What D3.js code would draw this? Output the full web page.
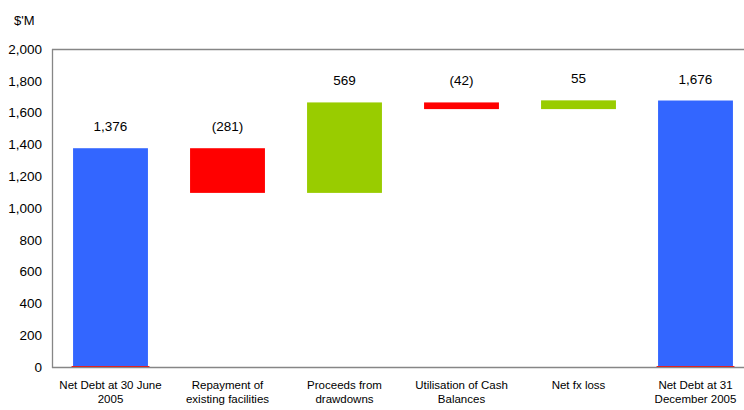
<!DOCTYPE html>
<html>
<head>
<meta charset="utf-8">
<script src="https://cdn.jsdelivr.net/npm/d3@7"></script>
<style>
  html, body { margin: 0; padding: 0; background: #fff; }
  svg { display: block; font-family: "Liberation Sans", Arial, sans-serif; }
</style>
</head>
<body>
<svg id="chart" width="744" height="410"></svg>
<script>
const categories = [
  ["Net Debt at 30 June", "2005"],
  ["Repayment of", "existing facilities"],
  ["Proceeds from", "drawdowns"],
  ["Utilisation of Cash", "Balances"],
  ["Net fx loss"],
  ["Net Debt at 31", "December 2005"]
];
const values = [1376, -281, 569, -42, 55, 1676];
const kinds = ["total", "delta", "delta", "delta", "delta", "total"];
const valueLabels = ["1,376", "(281)", "569", "(42)", "55", "1,676"];
const yTicks = [0, 200, 400, 600, 800, 1000, 1200, 1400, 1600, 1800, 2000];
const yTickLabels = ["0", "200", "400", "600", "800", "1,000", "1,200", "1,400", "1,600", "1,800", "2,000"];

const svg = d3.select("#chart");
const mLeft = 52, mRight = 754, mTop = 49, mBottom = 367;

const x = d3.scaleBand().domain(d3.range(categories.length)).range([mLeft, mRight]).paddingInner(0.36).paddingOuter(0.18);
const y = d3.scaleLinear().domain([0, 2000]).range([mBottom, mTop]);

// compute waterfall segments
let run = 0;
const segs = values.map((v, i) => {
  let y0, y1;
  if (kinds[i] === "total") { y0 = 0; y1 = v; run = v; }
  else { y0 = run; y1 = run + v; run = y1; }
  return { i, v, lo: Math.min(y0, y1), hi: Math.max(y0, y1), kind: kinds[i] };
});

const colorOf = d => d.kind === "total" ? "#3366FF" : (d.v < 0 ? "#FF0000" : "#99CC00");

const grey = "#868686";
svg.append("line").attr("x1", mLeft).attr("x2", 744).attr("y1", mTop + 0.5).attr("y2", mTop + 0.5).attr("stroke", grey).attr("stroke-width", 1.3);
svg.append("line").attr("x1", mLeft + 0.5).attr("x2", mLeft + 0.5).attr("y1", mTop).attr("y2", mBottom + 1).attr("stroke", grey).attr("stroke-width", 1.3);

// bars
svg.append("g").selectAll("rect").data(segs).join("rect")
  .attr("x", d => x(d.i))
  .attr("width", x.bandwidth())
  .attr("y", d => y(d.hi))
  .attr("height", d => y(d.lo) - y(d.hi))
  .attr("fill", colorOf);

// thin red base under total bars
svg.append("g").selectAll("line").data(segs.filter(d => d.kind === "total")).join("line")
  .attr("x1", d => x(d.i) - 1.5).attr("x2", d => x(d.i) + x.bandwidth() + 1.5)
  .attr("y1", y(0) - 0.5).attr("y2", y(0) - 0.5)
  .attr("stroke", "#FF0000").attr("stroke-width", 1);

svg.append("line").attr("x1", mLeft).attr("x2", 744).attr("y1", mBottom + 0.5).attr("y2", mBottom + 0.5).attr("stroke", grey).attr("stroke-width", 1.3);

// value labels
svg.append("g").selectAll("text").data(segs).join("text")
  .attr("x", d => x(d.i) + x.bandwidth() / 2)
  .attr("y", d => y(d.hi) - 17)
  .attr("text-anchor", "middle")
  .attr("font-size", "13.5px")
  .attr("fill", "#000")
  .text(d => valueLabels[d.i]);

// y tick labels
svg.append("g").selectAll("text").data(yTicks).join("text")
  .attr("x", 42)
  .attr("y", d => y(d))
  .attr("dy", "0.36em")
  .attr("text-anchor", "end")
  .attr("font-size", "13.5px")
  .attr("fill", "#000")
  .text((d, i) => yTickLabels[i]);

// unit label
svg.append("text").attr("x", 14).attr("y", 25).attr("font-size", "13px").attr("fill", "#000").text("$'M");

// category labels
const cat = svg.append("g").selectAll("text").data(categories).join("text")
  .attr("x", (d, i) => x(i) + x.bandwidth() / 2)
  .attr("y", 389)
  .attr("text-anchor", "middle")
  .attr("font-size", "11.5px")
  .attr("fill", "#000");
cat.selectAll("tspan").data(d => d).join("tspan")
  .attr("x", function() { return this.parentNode.getAttribute("x"); })
  .attr("dy", (d, j) => j === 0 ? 0 : 14)
  .text(d => d);
</script>
</body>
</html>
